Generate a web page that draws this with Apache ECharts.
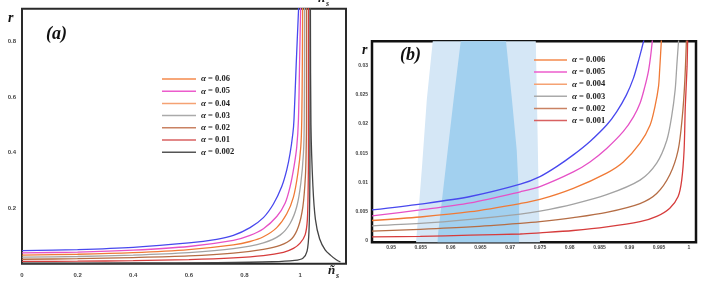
<!DOCTYPE html>
<html><head><meta charset="utf-8">
<script src="https://cdn.jsdelivr.net/npm/echarts@6/dist/echarts.min.js"></script>
<style>html,body{margin:0;padding:0;background:#fff}#c{width:708px;height:281px}</style>
</head><body><div id="c"></div>
<script>
// ---------- Panel (a): r vs n_s ----------
const alphaA = ['0.06','0.05','0.04','0.03','0.02','0.01','0.002'];
const ticksAX = [0,0.2,0.4,0.6,0.8,1];
const ticksAY = [0.2,0.4,0.6,0.8];
const a006 = [[0,0.047],[0.2,0.051],[0.4,0.059],[0.6,0.075],[0.7,0.088],[0.76,0.102],[0.82,0.13],[0.868,0.166],[0.904,0.215],[0.934,0.278],[0.952,0.338],[0.964,0.398],[0.974,0.47],[0.978,0.52],[0.986,0.72],[0.995,0.93]];
const a005 = [[0,0.039],[0.2,0.042],[0.4,0.049],[0.6,0.062],[0.76,0.084],[0.82,0.102],[0.868,0.126],[0.916,0.17],[0.946,0.218],[0.964,0.278],[0.978,0.35],[0.988,0.422],[0.994,0.52],[0.998,0.72],[1.002,0.93]];
const a004 = [[0,0.031],[0.2,0.034],[0.4,0.04],[0.6,0.051],[0.76,0.068],[0.82,0.08],[0.868,0.097],[0.916,0.13],[0.952,0.18],[0.976,0.24],[0.992,0.326],[1.0025,0.422],[1.006,0.52],[1.008,0.72],[1.009,0.93]];
const a003 = [[0,0.0234],[0.2,0.026],[0.4,0.031],[0.6,0.04],[0.76,0.054],[0.868,0.075],[0.928,0.103],[0.964,0.145],[0.988,0.206],[1.0025,0.29],[1.012,0.398],[1.015,0.52],[1.016,0.93]];
const a002 = [[0,0.016],[0.2,0.018],[0.4,0.022],[0.6,0.028],[0.76,0.038],[0.868,0.052],[0.928,0.066],[0.97,0.09],[0.994,0.134],[1.01,0.206],[1.019,0.314],[1.022,0.422],[1.023,0.52],[1.023,0.93]];
const a001 = [[0,0.0082],[0.2,0.009],[0.4,0.011],[0.6,0.015],[0.76,0.021],[0.868,0.029],[0.94,0.041],[0.976,0.055],[1.0,0.074],[1.018,0.104],[1.026,0.158],[1.029,0.278],[1.03,0.4],[1.03,0.93]];
const a0002L = [[0,0.0018],[0.4,0.0025],[0.7,0.004],[0.9,0.007],[0.98,0.012],[1.01,0.02],[1.025,0.045],[1.032,0.12],[1.035,0.3],[1.036,0.93]];
const a0002R = [[1.037,0.93],[1.039,0.5],[1.046,0.28],[1.055,0.16],[1.07,0.09],[1.09,0.05],[1.11,0.03],[1.13,0.014],[1.145,0.006]];

// ---------- Panel (b): zoom with Planck contours ----------
const alphaB = ['0.006','0.005','0.004','0.003','0.002','0.001'];
const ticksBX = [0.95,0.955,0.96,0.965,0.97,0.975,0.98,0.985,0.99,0.995,1];
const ticksBY = [0,0.005,0.01,0.015,0.02,0.025,0.03];
const b006 = [[0.9468,0.0053],[0.9549,0.0063],[0.9633,0.0076],[0.9717,0.0097],[0.975,0.011],[0.9778,0.0127],[0.9806,0.0147],[0.9834,0.017],[0.9862,0.0198],[0.9879,0.0221],[0.9895,0.0249],[0.9907,0.0278],[0.9915,0.0306],[0.9921,0.0329],[0.9925,0.0345]];
const b005 = [[0.9468,0.0043],[0.9549,0.0053],[0.9633,0.0065],[0.9717,0.0084],[0.975,0.0093],[0.9806,0.0118],[0.9834,0.0135],[0.9862,0.0158],[0.989,0.0187],[0.9907,0.0212],[0.9918,0.0235],[0.9926,0.0263],[0.9932,0.0289],[0.9936,0.0317],[0.9939,0.0345]];
const b004 = [[0.9468,0.0035],[0.9549,0.0041],[0.9633,0.005],[0.9717,0.0064],[0.975,0.0071],[0.9806,0.009],[0.9862,0.0116],[0.989,0.0135],[0.9918,0.0167],[0.9935,0.0198],[0.9943,0.0229],[0.9949,0.0263],[0.9951,0.0292],[0.9954,0.0345]];
const b003 = [[0.9468,0.0026],[0.9549,0.003],[0.9633,0.0037],[0.9717,0.0046],[0.975,0.0051],[0.9806,0.0063],[0.9862,0.0079],[0.9918,0.0104],[0.9946,0.0133],[0.9963,0.0172],[0.9971,0.0212],[0.9977,0.0258],[0.998,0.0303],[0.9983,0.0345]];
const b002 = [[0.9468,0.0017],[0.9549,0.002],[0.9633,0.0024],[0.9717,0.003],[0.975,0.0033],[0.9806,0.004],[0.9862,0.0049],[0.9918,0.0064],[0.9946,0.0081],[0.9968,0.0113],[0.9982,0.0155],[0.9989,0.0212],[0.9993,0.0269],[0.9996,0.0345]];
const b001 = [[0.9468,0.0007],[0.9549,0.0008],[0.9633,0.001],[0.9717,0.0012],[0.975,0.0014],[0.9806,0.0018],[0.9862,0.0024],[0.9918,0.0033],[0.9946,0.0042],[0.9968,0.0056],[0.9982,0.0076],[0.9988,0.0104],[0.9992,0.0155],[0.9994,0.0229],[0.9997,0.0298],[0.9998,0.0345]];
const contour2s = [[0.9542,-0.0002],[0.9552,0.0127],[0.956,0.0241],[0.957,0.0341],[0.9743,0.0341],[0.9746,0.0184],[0.9748,0.007],[0.975,-0.0002]];
const contour1s = [[0.9578,-0.0002],[0.9579,0.0013],[0.9592,0.0127],[0.9605,0.0241],[0.9617,0.0341],[0.9693,0.0341],[0.9703,0.0241],[0.9711,0.0155],[0.9715,0.007],[0.9715,-0.0002]];

const C = {blue:'#4848ee', pink:'#e651c6', orange:'#f07a36', gray:'#a3a3a3', brown:'#b56d45', red:'#d63c3c', dark:'#444444'};
const curveColors = [C.blue, C.pink, C.orange, C.gray, C.brown, C.red, C.dark];
const legendColorsA = ['#f58a4c', '#ec5ccc', '#f5a273', '#aaaaaa', '#c98263', '#d86161', '#555555'];
const legendColorsB = ['#f58a4c', '#ec5ccc', '#f5a273', '#aaaaaa', '#c98263', '#d86161'];

const chart = echarts.init(document.getElementById('c'), null, {renderer:'canvas'});
const serifF = '"Liberation Serif", "DejaVu Serif", serif';
const namesA = alphaA.map(a => 'α = ' + a);
const namesB = alphaB.map(a => 'α = ' + a);

function lineSeries(name, data, color, xi){
  return {type:'line', name, data, xAxisIndex:xi, yAxisIndex:xi, showSymbol:false, symbol:'none',
    smooth:0.3, lineStyle:{color, width:1.3}, itemStyle:{color}, z:5, silent:true, animation:false};
}
function poly(points, color){
  return {type:'custom', xAxisIndex:1, yAxisIndex:1, z:1, silent:true, animation:false,
    data:[points[0]],
    renderItem:(params, api) => ({type:'polygon', shape:{points: points.map(p => api.coord(p))}, style:{fill:color}})};
}

const dataA = [a006,a005,a004,a003,a002,a001,a0002L];
const dataB = [b006,b005,b004,b003,b002,b001];
const series = [];
series.push(poly(contour2s, '#d5e7f6'));
series.push(poly(contour1s, '#a2d0ef'));
dataA.forEach((d,i) => series.push(lineSeries(namesA[i], d, curveColors[i], 0)));
series.push(lineSeries(namesA[6], a0002R, C.dark, 0));
dataB.forEach((d,i) => series.push(lineSeries(namesB[i], d, curveColors[i], 1)));

const lblA = {fontSize:6, fontWeight:'bold', color:'#444', fontFamily:'"Liberation Sans", Arial, sans-serif'};
const legendText = {fontSize:8.5, fontWeight:'bold', color:'#222', fontFamily:serifF, lineHeight:12,
  rich:{a:{fontStyle:'italic', fontWeight:'bold', fontSize:9, fontFamily:serifF, color:'#222'}}};

chart.setOption({
  animation:false,
  grid:[
    {left:22, top:8.7, width:324, height:255, show:true, borderColor:'#2a2a2a', borderWidth:2, backgroundColor:'transparent'},
    {left:372, top:41.2, width:324, height:201, show:true, borderColor:'#111', borderWidth:2.5, backgroundColor:'transparent'}
  ],
  xAxis:[
    {type:'value', gridIndex:0, min:0, max:1.165, axisLine:{show:false}, axisTick:{show:false}, splitLine:{show:false},
      axisLabel:Object.assign({margin:9, customValues:ticksAX}, lblA)},
    {type:'value', gridIndex:1, min:0.9468, max:1.0012, axisLine:{show:false}, axisTick:{show:false}, splitLine:{show:false},
      axisLabel:Object.assign({}, lblA, {fontSize:5, margin:3, customValues:ticksBX})}
  ],
  yAxis:[
    {type:'value', gridIndex:0, min:0, max:0.919, axisLine:{show:false}, axisTick:{show:false}, splitLine:{show:false},
      axisLabel:Object.assign({margin:6, customValues:ticksAY}, lblA)},
    {type:'value', gridIndex:1, min:-0.0002, max:0.0341, axisLine:{show:false}, axisTick:{show:false}, splitLine:{show:false},
      axisLabel:Object.assign({}, lblA, {fontSize:5, margin:4, customValues:ticksBY})}
  ],
  legend:[
    {orient:'vertical', left:157, top:68, icon:'rect', itemWidth:34, itemHeight:1.5, itemGap:0.2, itemTextGap:9,
      data:namesA.map((n,i) => ({name:n, itemStyle:{color:legendColorsA[i], borderWidth:0}})),
      formatter:n => n.replace('α', '{a|α}'), textStyle:legendText, selectedMode:false},
    {orient:'vertical', left:529, top:49, icon:'rect', itemWidth:33, itemHeight:1.5, itemGap:0.1, itemTextGap:9,
      data:namesB.map((n,i) => ({name:n, itemStyle:{color:legendColorsB[i], borderWidth:0}})),
      formatter:n => n.replace('α', '{a|α}'), textStyle:legendText, selectedMode:false}
  ],
  graphic:[
    {type:'text', left:46, top:25, style:{text:'(a)', font:'italic bold 18px ' + serifF, fill:'#111'}},
    {type:'text', left:400, top:46, style:{text:'(b)', font:'italic bold 18px ' + serifF, fill:'#111'}},
    {type:'text', left:8, top:11, style:{text:'r', font:'italic bold 14px ' + serifF, fill:'#111'}},
    {type:'text', left:362, top:43, style:{text:'r', font:'italic bold 14px ' + serifF, fill:'#111'}},
    {type:'text', left:328, top:264, style:{text:'ñ', font:'italic bold 13px ' + serifF, fill:'#222'}},
    {type:'text', left:336, top:272, style:{text:'s', font:'italic bold 8px ' + serifF, fill:'#222'}},
    {type:'text', left:318, top:-8, style:{text:'ñ', font:'italic bold 13px ' + serifF, fill:'#222'}},
    {type:'text', left:326, top:0, style:{text:'s', font:'italic bold 8px ' + serifF, fill:'#222'}}
  ],
  series
});
</script>
</body></html>
